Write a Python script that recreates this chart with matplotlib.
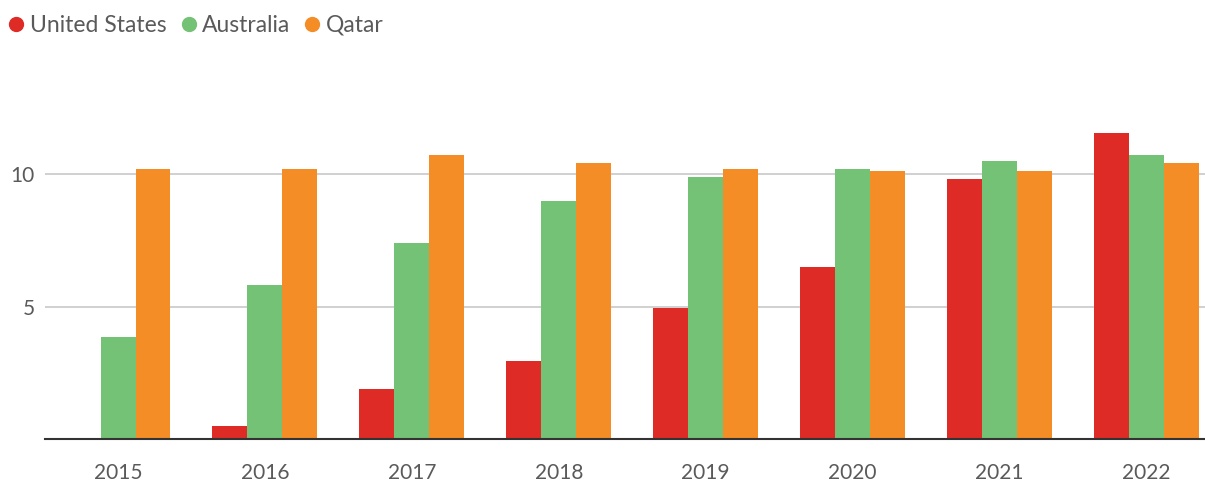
import numpy as np
import matplotlib
matplotlib.use("Agg")
import matplotlib.pyplot as plt
from matplotlib.lines import Line2D

years = ["2015", "2016", "2017", "2018", "2019", "2020", "2021", "2022"]
united_states = [0.05, 0.5, 1.9, 2.95, 4.95, 6.5, 9.8, 11.55]
australia = [3.85, 5.8, 7.4, 9.0, 9.9, 10.2, 10.5, 10.7]
qatar = [10.2, 10.2, 10.7, 10.4, 10.2, 10.1, 10.1, 10.4]

series = [("United States", united_states, "#DE2B26"),
          ("Australia", australia, "#74C275"),
          ("Qatar", qatar, "#F58D27")]

plt.rcParams["font.family"] = ["Lato", "DejaVu Sans"]

fig = plt.figure(figsize=(12.05, 4.82), dpi=100)
ax = fig.add_axes([0.037, 0.089, 0.963, 0.66])

x = np.arange(len(years))
w = 0.238
for i, (name, vals, col) in enumerate(series):
    ax.bar(x + (i - 1) * w, vals, w, color=col, zorder=3)

ax.set_xlim(-0.5, 7.4)
ax.set_ylim(0, 12)
ax.set_yticks([5, 10])
ax.set_xticks(x)
ax.set_xticklabels(years)
ax.grid(axis="y", color="#c8c8c8", linewidth=1.2, zorder=0)
for s in ["top", "right", "left"]:
    ax.spines[s].set_visible(False)
ax.spines["bottom"].set_color("#333333")
ax.spines["bottom"].set_linewidth(1.5)
ax.spines["bottom"].set_zorder(4)
ax.tick_params(axis="both", length=0, labelsize=15, labelcolor="#5a5a5a")
ax.tick_params(axis="x", pad=17)
ax.tick_params(axis="y", pad=7)

handles = [Line2D([], [], marker="o", linestyle="", markersize=10, color=c)
           for _, _, c in series]
fig.legend(handles, [n for n, _, _ in series], loc="upper left",
           bbox_to_anchor=(-0.013, 1.012), ncol=3, frameon=False,
           fontsize=16.5, labelcolor="#5a5a5a", handletextpad=0.1,
           columnspacing=0.45, handlelength=1.0)

fig.savefig("out.png", dpi=100)
